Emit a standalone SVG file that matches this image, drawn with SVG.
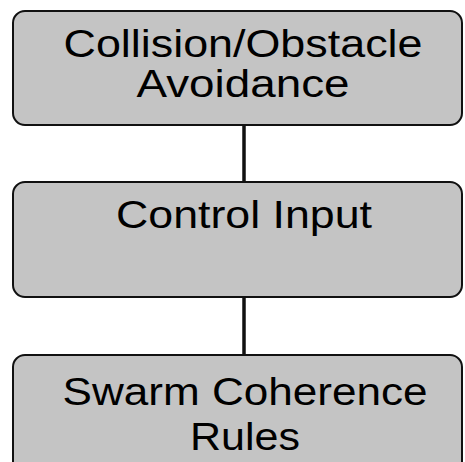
<svg xmlns="http://www.w3.org/2000/svg" width="465" height="462" viewBox="0 0 465 462">
  <style>
    .box { fill: #c4c4c4; stroke: #111; stroke-width: 2; }
    .label { font-family: "Liberation Sans", Arial, sans-serif; font-size: 38px; fill: #000; text-anchor: middle; }
    .link { stroke: #111; stroke-width: 3.5; fill: none; }
  </style>
  <rect width="465" height="462" fill="#fff"/>
  <g id="connectors">
    <line class="link" x1="244" y1="125" x2="244" y2="182"/>
    <line class="link" x1="244" y1="297" x2="244" y2="355"/>
  </g>
  <g id="node-avoidance">
    <rect class="box" x="13" y="11" width="449" height="114" rx="12" ry="12"/>
    <text class="label" x="243" y="57" textLength="359" lengthAdjust="spacingAndGlyphs">Collision/Obstacle</text>
    <text class="label" x="243" y="97" textLength="213" lengthAdjust="spacingAndGlyphs">Avoidance</text>
  </g>
  <g id="node-control">
    <rect class="box" x="13" y="182" width="449" height="115" rx="12" ry="12"/>
    <text class="label" x="244" y="228" textLength="256" lengthAdjust="spacingAndGlyphs">Control Input</text>
  </g>
  <g id="node-swarm">
    <rect class="box" x="13" y="355" width="449" height="120" rx="12" ry="12"/>
    <text class="label" x="245" y="405" textLength="365" lengthAdjust="spacingAndGlyphs">Swarm Coherence</text>
    <text class="label" x="245" y="450" textLength="110" lengthAdjust="spacingAndGlyphs">Rules</text>
  </g>
</svg>
